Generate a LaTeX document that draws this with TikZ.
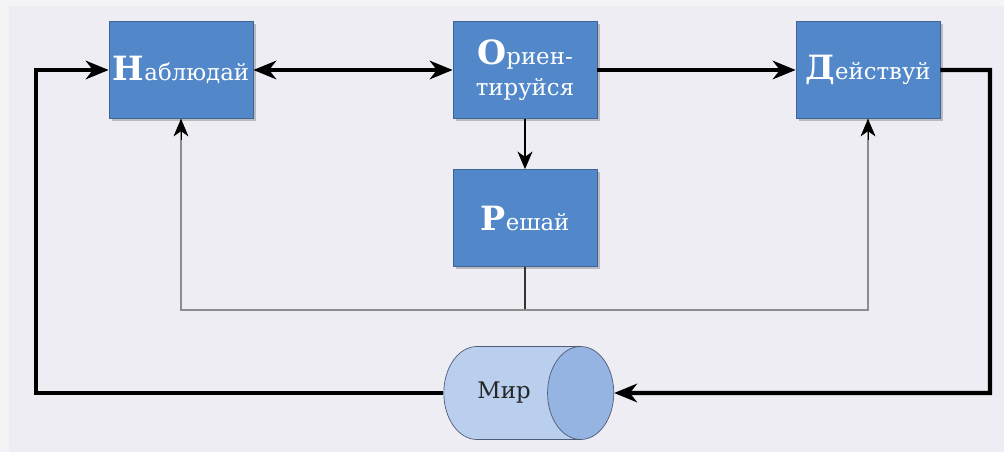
\documentclass[tikz,border=0pt]{standalone}
\usepackage{fontspec}
\setmainfont{DejaVu Serif}
\usetikzlibrary{arrows.meta}
\usetikzlibrary{shapes.geometric}
\usetikzlibrary{shadows}
\definecolor{boxblue}{RGB}{82,136,201}
\definecolor{worldbody}{RGB}{186,206,238}
\definecolor{worldend}{RGB}{150,180,226}
\definecolor{worldline}{RGB}{78,92,118}
\definecolor{bgouter}{RGB}{244,244,246}
\definecolor{bgpanel}{RGB}{237,237,243}
\newcommand{\initial}[1]{{\fontsize{19}{19}\selectfont\bfseries #1}}

\tikzset{
 ooda/.style={draw=boxblue!75!black, fill=boxblue, text=white, minimum width=2.88cm, minimum height=1.94cm,
   inner sep=1pt, align=center, font=\fontsize{13}{18}\selectfont,
   drop shadow={shadow xshift=1.5pt, shadow yshift=-1.5pt, opacity=.45}},
 mainloop/.style={line width=2.3pt},
 feed/.style={draw=black!45, line width=.8pt},
 bigtip/.tip={Stealth[length=13pt,width=10.5pt,inset=4pt]},
 smalltip/.tip={Stealth[length=10pt,width=8.5pt,inset=3pt]}
}

\begin{document}
\begin{tikzpicture} [x=0.02cm,y=-0.02cm]
\fill[bgouter] (0,0) rectangle (1004,452);
\fill[bgpanel] (9,6) rectangle (1004,452);
% OODA boxes
\node[ooda] (observe) at (181,70)  {\initial{Н}аблюдай};
\node[ooda] (orient)  at (525,70)  {\initial{О}риен-\\тируйся};
\node[ooda] (act)     at (868,70)  {\initial{Д}ействуй};
\node[ooda] (decide)  at (525,218) {\initial{Р}ешай};
\node[cylinder, draw=worldline, shape border rotate=0, aspect=2, minimum width=1.86cm, minimum height=3.4cm,
  cylinder uses custom fill, cylinder body fill=worldbody, cylinder end fill=worldend,
  font=\fontsize{13}{15}\selectfont, text=black!85] (world) at (504,393) {Мир\hspace{1.6cm}};
% main loop
\draw[mainloop, bigtip-bigtip] (observe) -- (orient);
\draw[mainloop, -bigtip] (orient) -- (act);
\draw[mainloop, -bigtip] (world.west) -| (36,70) -- (observe.west);
\draw[mainloop, -bigtip] (act.east) -| (990,393) -- (world.east);
% decisions
\draw[feed, -smalltip, black] (orient) -- (decide);
\coordinate (split) at (525,310);
\draw[feed, draw=black!80] (decide) -- (split);
\draw[feed] (split) -| (observe.south);
\draw[feed] (split) -| (act.south);
\draw[-smalltip] (181,140) -- (observe.south);
\draw[-smalltip] (868,140) -- (act.south);
\end{tikzpicture}
\end{document}
